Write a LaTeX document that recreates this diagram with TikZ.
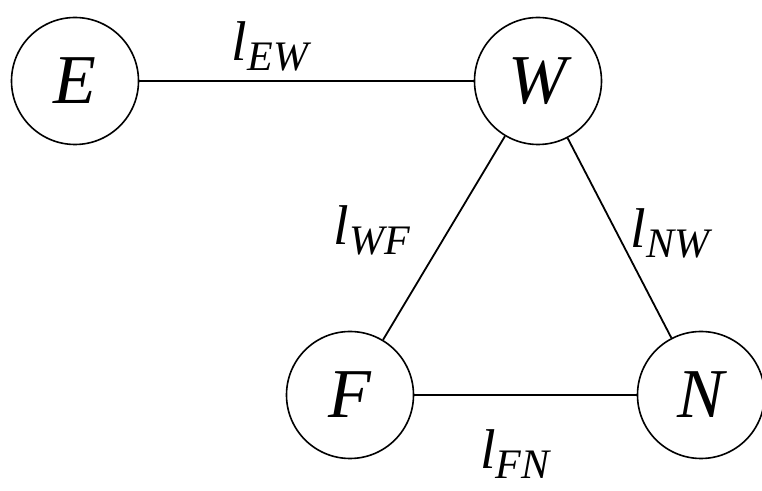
\documentclass[tikz,border=0pt]{standalone}
\usepackage{fontspec}
\setmainfont{Liberation Serif}
\newcommand{\linklab}[1]{{\fontsize{28}{30}\selectfont\itshape l\raisebox{-5pt}{\fontsize{21}{23}\selectfont #1}}}
\tikzset{
  station/.style={draw, circle, line width=0.8pt, minimum size=63.5pt, inner sep=0pt,
    font=\fontsize{35}{37}\selectfont\itshape},
  link/.style={line width=0.9pt}
}
\begin{document}
\begin{tikzpicture}[x=0.5pt,y=-0.5pt]
\useasboundingbox (0,0) rectangle (762,491);
\node[station] (E) at (75,81) {E};
\node[station] (W) at (538,81) {W};
\node[station] (F) at (350,395) {F};
\node[station] (N) at (701,395) {N};
\draw[link] (E) -- (W);
\draw[link] (W) -- (F);
\draw[link] (W) -- (N);
\draw[link] (F) -- (N);
\node (lEW) at (270,46) {\linklab{EW}};
\node (lWF) at (372,230) {\linklab{WF}};
\node (lNW) at (670,233) {\linklab{NW}};
\node (lFN) at (515,454) {\linklab{FN}};
\end{tikzpicture}
\end{document}
